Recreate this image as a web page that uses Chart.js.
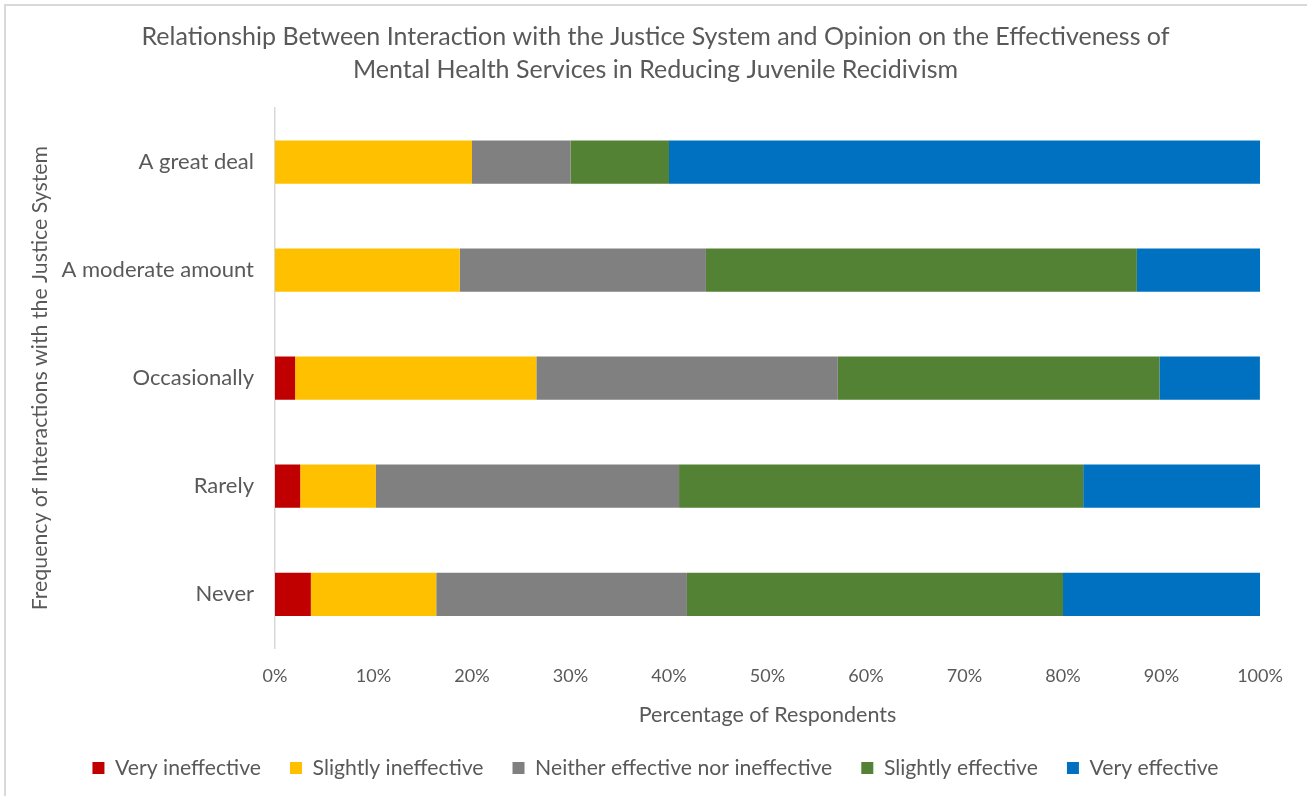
<!DOCTYPE html>
<html>
<head>
<meta charset="utf-8">
<script src="https://cdn.jsdelivr.net/npm/chart.js@4"></script>
<style>
html,body{margin:0;padding:0;background:#fff;overflow:hidden;}
#wrap{position:relative;width:1307px;height:796px;overflow:hidden;}
#frame{position:absolute;left:4px;top:4px;width:1400px;height:900px;border-left:2px solid #d9d9d9;border-top:2px solid #d9d9d9;box-sizing:border-box;pointer-events:none;}
canvas{position:absolute;left:0;top:0;}
</style>
</head>
<body>
<div id="wrap">
<canvas id="c" width="1307" height="830"></canvas>
<div id="frame"></div>
</div>
<script>
const categories = ["A great deal", "A moderate amount", "Occasionally", "Rarely", "Never"];
const veryIneffective     = [0, 0, 2.04, 2.56, 3.64];
const slightlyIneffective = [20, 18.75, 24.49, 7.69, 12.73];
const neither             = [10, 25, 30.61, 30.77, 25.45];
const slightlyEffective   = [10, 43.75, 32.65, 41.03, 38.18];
const veryEffective       = [60, 12.5, 10.2, 17.95, 20];
const xTicks = [0,10,20,30,40,50,60,70,80,90,100];

const FONT = "Lato, 'Open Sans', sans-serif";
const TXT = "#595959";

new Chart(document.getElementById('c'), {
  type: 'bar',
  data: {
    labels: categories,
    datasets: [
      {label: "Very ineffective", data: veryIneffective, backgroundColor: "#C00000"},
      {label: "Slightly ineffective", data: slightlyIneffective, backgroundColor: "#FFC000"},
      {label: "Neither effective nor ineffective", data: neither, backgroundColor: "#808080"},
      {label: "Slightly effective", data: slightlyEffective, backgroundColor: "#548235"},
      {label: "Very effective", data: veryEffective, backgroundColor: "#0070C0"}
    ]
  },
  options: {
    indexAxis: 'y',
    responsive: false,
    animation: false,
    devicePixelRatio: 1,
    datasets: {bar: {categoryPercentage: 1, barPercentage: 0.4, borderWidth: 0}},
    layout: {padding: {top: 20.5, left: 51, right: 47, bottom: 41.5}},
    plugins: {
      tooltip: {enabled: false},
      title: {
        display: true,
        text: ["Relationship Between Interaction with the Justice System and Opinion on the Effectiveness of",
               "Mental Health Services in Reducing Juvenile Recidivism"],
        color: TXT,
        font: {family: FONT, size: 25, weight: 'normal', lineHeight: 1.32},
        padding: {top: 0, bottom: 21.5}
      },
      legend: {
        position: 'bottom',
        labels: {
          color: TXT,
          font: {family: FONT, size: 21.2},
          boxWidth: 12, boxHeight: 12, padding: 29
        }
      }
    },
    scales: {
      x: {
        stacked: true,
        min: 0, max: 100,
        afterBuildTicks: (s) => { s.ticks = xTicks.map(v => ({value: v})); },
        ticks: {color: TXT, font: {family: FONT, size: 18}, padding: 17, callback: v => v + '%', maxRotation: 0},
        grid: {display: false, drawTicks: false},
        border: {display: false},
        title: {display: true, text: "Percentage of Respondents", color: TXT, font: {family: FONT, size: 21.5}, padding: {top: 7.5, bottom: 0}},
        afterFit: (s) => { s.height = 80; }
      },
      y: {
        stacked: true,
        ticks: {color: TXT, font: {family: FONT, size: 22}, padding: 21},
        grid: {display: false, drawTicks: false},
        border: {display: true, color: '#d9d9d9', width: 1.5},
        title: {display: true, text: "Frequency of Interactions with the Justice System", color: TXT, font: {family: FONT, size: 21.3}, padding: {top: -24, bottom: 0}},
        afterFit: (s) => { s.width = 224; }
      }
    }
  }
});
</script>
</body>
</html>
